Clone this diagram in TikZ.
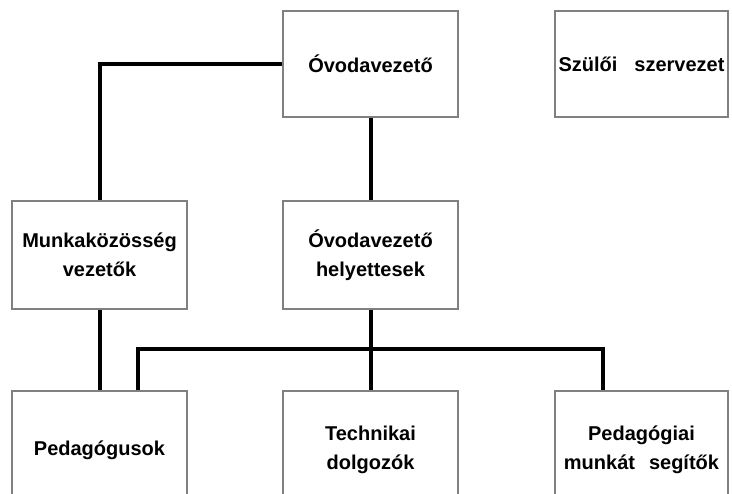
\documentclass[tikz,border=0pt]{standalone}
\usepackage{fontspec}
\setmainfont{Liberation Sans}
\begin{document}
\begin{tikzpicture}[x=1pt,y=-1pt,
  box/.style={draw=black!50, line width=1.3pt, minimum width=175pt, inner sep=0pt, align=center, font=\fontsize{20}{28.5}\selectfont\bfseries},
  conn/.style={line width=4pt, line join=miter}]
\useasboundingbox (0,0) rectangle (732,494);
\node[box, minimum height=106pt] (ov) at (370.5,64) {Óvodavezető};
\node[box, minimum height=106pt, minimum width=173pt] (sz) at (641.5,64) {Szülői\hspace{0.85em}szervezet};
\node[box, minimum height=108pt] (mk) at (99.5,255) {Munkaközösség\\vezetők};
\node[box, minimum height=108pt] (he) at (370.5,255) {Óvodavezető\\helyettesek};
\node[box, minimum height=118pt] (pe) at (99.5,450) {Pedagógusok};
\node[box, minimum height=118pt] (te) at (370.5,450) {Technikai\\dolgozók};
\node[box, minimum height=118pt, minimum width=173pt] (se) at (641.5,450) {Pedagógiai\\munkát\hspace{0.7em}segítők};
\coordinate (bl) at (138,349);
\coordinate (br) at (603,349);
\draw[conn] (ov.west) -| (mk.north);
\draw[conn] (ov.south) -- (he.north);
\draw[conn] (mk.south) -- (pe.north);
\draw[conn] (he.south) -- (te.north);
\draw[conn] (pe.north -| bl) -- (bl) -- (br) -- (se.north -| br);
\end{tikzpicture}
\end{document}
